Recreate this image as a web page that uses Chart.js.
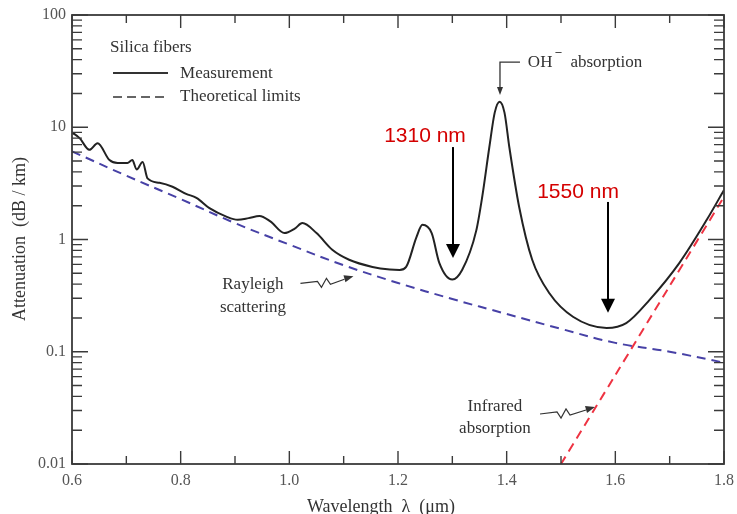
<!DOCTYPE html>
<html>
<head>
<meta charset="utf-8">
<script src="https://cdn.jsdelivr.net/npm/chart.js@4.4.1/dist/chart.umd.min.js"></script>
<style>
  html, body { margin: 0; padding: 0; background: #fff; }
  #wrap { width: 737px; height: 514px; }
</style>
</head>
<body>
<div id="wrap"><canvas id="myChart"></canvas></div>
<script>
// wavelength in um, attenuation in dB/km
const measureX = [0.6, 0.614, 0.632, 0.647, 0.669, 0.684, 0.702, 0.711, 0.719, 0.73,
  0.739, 0.761, 0.785, 0.81, 0.829, 0.853, 0.884, 0.905, 0.925, 0.945,
  0.965, 0.991, 1.01, 1.024, 1.05, 1.079, 1.11, 1.153, 1.185, 1.203,
  1.215, 1.234, 1.245, 1.262, 1.276, 1.3, 1.318, 1.344, 1.355, 1.368,
  1.378, 1.387, 1.396, 1.405, 1.423, 1.447, 1.479, 1.522, 1.584, 1.62,
  1.663, 1.718, 1.768, 1.8];
const measureY = [9.0, 8.0, 6.3, 7.2, 5.1, 4.8, 4.8, 5.1, 4.2, 4.9,
  3.5, 3.2, 2.95, 2.55, 2.35, 1.9, 1.6, 1.5, 1.55, 1.62,
  1.45, 1.14, 1.25, 1.4, 1.14, 0.81, 0.66, 0.57, 0.54, 0.535,
  0.57, 1.05, 1.35, 1.14, 0.62, 0.44, 0.535, 1.2, 2.4, 6.6,
  13.5, 16.9, 13.5, 6.6, 1.95, 0.66, 0.33, 0.205, 0.163, 0.18,
  0.29, 0.62, 1.49, 2.76];

const rayleighX = [0.6, 0.7, 0.8, 0.9, 1.0, 1.1, 1.2, 1.3, 1.4, 1.5, 1.6, 1.7, 1.8];
const rayleighY = [6.1, 3.7, 2.29, 1.4, 0.9, 0.59, 0.41, 0.295, 0.217, 0.16, 0.12, 0.1, 0.08];

const infraredX = [1.5, 1.6, 1.7, 1.8];
const infraredY = [0.01, 0.062, 0.386, 2.4];

const xTicks = [0.6, 0.8, 1.0, 1.2, 1.4, 1.6, 1.8];
const xTickLabels = ["0.6", "0.8", "1.0", "1.2", "1.4", "1.6", "1.8"];
const yTicks = [0.01, 0.1, 1, 10, 100];
const yTickLabels = ["0.01", "0.1", "1", "10", "100"];

const pts = (xs, ys) => xs.map((v, i) => ({ x: v, y: ys[i] }));

const SERIF = "'Liberation Serif', 'DejaVu Serif', serif";
const SANS = "'Liberation Sans', Arial, sans-serif";

function arrowDown(ctx, x, y1, y2, hw, hl) {
  ctx.beginPath();
  ctx.moveTo(x, y1);
  ctx.lineTo(x, y2 - hl + 1);
  ctx.stroke();
  ctx.beginPath();
  ctx.moveTo(x - hw, y2 - hl);
  ctx.lineTo(x + hw, y2 - hl);
  ctx.lineTo(x, y2);
  ctx.closePath();
  ctx.fill();
}

// wavy pointer ending in a small arrowhead at (tx, ty)
function squiggle(ctx, tx, ty, len) {
  const p = [[-len, 7], [-len + 17, 5], [-len + 21, 11], [-len + 26, 2], [-len + 30, 8], [-9, 3]];
  ctx.beginPath();
  ctx.moveTo(tx + p[0][0], ty + p[0][1]);
  for (let i = 1; i < p.length; i++) ctx.lineTo(tx + p[i][0], ty + p[i][1]);
  ctx.stroke();
  ctx.beginPath();
  ctx.moveTo(tx, ty);
  ctx.lineTo(tx - 10, ty - 1);
  ctx.lineTo(tx - 8, ty + 6);
  ctx.closePath();
  ctx.fill();
}

const annotations = {
  id: "annotations",
  afterDatasetsDraw(chart) {
    const { ctx, scales: { x, y } } = chart;
    const X = (v) => x.getPixelForValue(v);
    const Y = (v) => y.getPixelForValue(v);
    ctx.save();
    ctx.fillStyle = "#333";
    ctx.strokeStyle = "#333";
    ctx.textBaseline = "middle";
    ctx.font = "17px " + SERIF;

    // legend block
    ctx.textAlign = "left";
    ctx.fillText("Silica fibers", X(0.67), Y(50.8));
    ctx.lineWidth = 2;
    ctx.beginPath();
    ctx.moveTo(X(0.6755), Y(30.4));
    ctx.lineTo(X(0.7767), Y(30.4));
    ctx.stroke();
    ctx.setLineDash([9, 5]);
    ctx.lineWidth = 1.5;
    ctx.beginPath();
    ctx.moveTo(X(0.6755), Y(18.6));
    ctx.lineTo(X(0.7767), Y(18.6));
    ctx.stroke();
    ctx.setLineDash([]);
    ctx.fillText("Measurement", X(0.799), Y(30.4));
    ctx.fillText("Theoretical limits", X(0.799), Y(18.6));

    // OH- absorption bracket
    const ohx = X(1.439), ohy = Y(38.1);
    ctx.fillText("OH", ohx, ohy);
    const w = ctx.measureText("OH").width;
    ctx.font = "bold 12px " + SERIF;
    ctx.fillText("\u2013", ohx + w + 3, ohy - 10);
    ctx.font = "17px " + SERIF;
    ctx.fillText("absorption", ohx + w + 18, ohy);
    ctx.lineWidth = 1.3;
    ctx.beginPath();
    ctx.moveTo(X(1.4245), ohy);
    ctx.lineTo(X(1.3877), ohy);
    ctx.lineTo(X(1.3877), Y(19.4) - 6);
    ctx.stroke();
    arrowDown(ctx, X(1.3877), Y(19.4) - 8, Y(19.4), 3, 8);

    // Rayleigh / Infrared labels
    ctx.textAlign = "center";
    ctx.fillText("Rayleigh", X(0.933), Y(0.393));
    ctx.fillText("scattering", X(0.933), Y(0.25));
    ctx.fillText("Infrared", X(1.3785), Y(0.0322));
    ctx.fillText("absorption", X(1.3785), Y(0.0209));
    ctx.lineWidth = 1.2;
    squiggle(ctx, X(1.118), Y(0.47), 53);
    squiggle(ctx, X(1.5626), Y(0.0322), 55);

    // red wavelength markers
    ctx.font = "21px " + SANS;
    ctx.fillStyle = "#d40000";
    ctx.fillText("1310 nm", X(1.2497), Y(8.36));
    ctx.fillText("1550 nm", X(1.5313), Y(2.65));
    ctx.fillStyle = "#000";
    ctx.strokeStyle = "#000";
    ctx.lineWidth = 2;
    arrowDown(ctx, X(1.3012), Y(6.66), Y(0.684), 7, 14);
    arrowDown(ctx, X(1.5865), Y(2.16), Y(0.222), 7, 14);

    // axis titles
    ctx.fillStyle = "#333";
    ctx.font = "18px " + SERIF;
    ctx.fillText("Wavelength  \u03bb  (\u03bcm)", 381, 507);
    ctx.translate(20, 239);
    ctx.rotate(-Math.PI / 2);
    ctx.fillText("Attenuation  (dB / km)", 0, 0);
    ctx.restore();
  },
  afterDraw(chart) {
    const { ctx, chartArea: a, scales: { x, y } } = chart;
    ctx.save();
    ctx.strokeStyle = "#3a3a3a";
    ctx.lineWidth = 1.8;
    ctx.strokeRect(a.left, a.top, a.right - a.left, a.bottom - a.top);
    ctx.lineWidth = 1.4;
    ctx.beginPath();
    for (let i = 0; i <= 12; i++) {
      const px = x.getPixelForValue(0.6 + i * 0.1);
      const len = i % 2 === 0 ? 13 : 8;
      ctx.moveTo(px, a.bottom); ctx.lineTo(px, a.bottom - len);
      ctx.moveTo(px, a.top); ctx.lineTo(px, a.top + len);
    }
    for (let d = -2; d <= 2; d++) {
      for (let m = 1; m <= 9; m++) {
        if (d === 2 && m > 1) break;
        const py = y.getPixelForValue(m * Math.pow(10, d));
        const len = m === 1 ? 16 : 10;
        ctx.moveTo(a.left, py); ctx.lineTo(a.left + len, py);
        ctx.moveTo(a.right, py); ctx.lineTo(a.right - len, py);
      }
    }
    ctx.stroke();
    ctx.restore();
  },
};

const ctx = document.getElementById("myChart");

new Chart(ctx, {
  type: "scatter",
  data: {
    datasets: [
      {
        label: "Measurement",
        data: pts(measureX, measureY),
        showLine: true,
        borderColor: "#222",
        borderWidth: 2,
        pointRadius: 0,
        cubicInterpolationMode: "monotone",
      },
      {
        label: "Rayleigh scattering",
        data: pts(rayleighX, rayleighY),
        showLine: true,
        borderColor: "#4741a6",
        borderWidth: 2,
        borderDash: [9, 6],
        pointRadius: 0,
        tension: 0.4,
      },
      {
        label: "Infrared absorption",
        data: pts(infraredX, infraredY),
        showLine: true,
        borderColor: "#ee3342",
        borderWidth: 2,
        borderDash: [9, 6],
        pointRadius: 0,
        tension: 0.3,
      },
    ],
  },
  options: {
    responsive: true,
    maintainAspectRatio: false,
    animation: false,
    layout: { padding: { top: 15, right: 13, left: 0, bottom: 0 } },
    plugins: {
      legend: { display: false },
      tooltip: { enabled: false },
    },
    scales: {
      x: {
        type: "linear",
        min: 0.6,
        max: 1.8,
        afterBuildTicks: (s) => { s.ticks = xTicks.map((v) => ({ value: v })); },
        afterFit: (s) => { s.height = 50; s.paddingLeft = 0; s.paddingRight = 0; },
        grid: { display: false, drawTicks: false },
        border: { display: false },
        ticks: {
          autoSkip: false,
          maxRotation: 0,
          padding: 7,
          color: "#555",
          font: { family: SERIF, size: 16 },
          callback: (v, i) => xTickLabels[i],
        },
      },
      y: {
        type: "logarithmic",
        min: 0.01,
        max: 100,
        afterBuildTicks: (s) => { s.ticks = yTicks.map((v) => ({ value: v })); },
        afterFit: (s) => { s.width = 72; s.paddingTop = 0; s.paddingBottom = 0; },
        grid: { display: false, drawTicks: false },
        border: { display: false },
        ticks: {
          autoSkip: false,
          padding: 6,
          color: "#555",
          font: { family: SERIF, size: 16 },
          callback: (v, i) => yTickLabels[i],
        },
      },
    },
  },
  plugins: [annotations],
});
</script>
</body>
</html>
